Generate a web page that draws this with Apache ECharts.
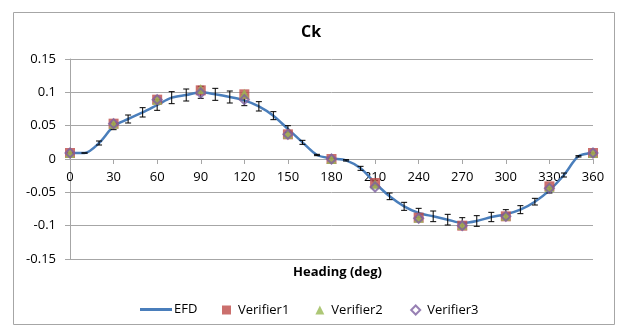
<!DOCTYPE html>
<html>
<head>
<meta charset="utf-8">
<script src="https://cdn.jsdelivr.net/npm/echarts@6/dist/echarts.min.js"></script>
<style>
html,body{margin:0;padding:0;background:#fff;}
#c{width:622px;height:329px;}
</style>
</head>
<body>
<div id="c"></div>
<script>
var efdHeading = [0,10,20,30,40,50,60,70,80,90,100,110,120,130,140,150,160,170,180,190,200,210,220,230,240,250,260,270,280,290,300,310,320,330,340,350,360];
var efdValues = [0.009,0.009,0.024,0.049,0.060,0.070,0.081,0.092,0.096,0.100,0.097,0.093,0.088,0.079,0.065,0.045,0.025,0.006,0.001,-0.002,-0.014,-0.036,-0.056,-0.071,-0.081,-0.086,-0.091,-0.096,-0.093,-0.087,-0.083,-0.076,-0.064,-0.047,-0.024,0.004,0.009];
var efdError = [0,0,0.003,0.005,0.006,0.007,0.008,0.009,0.009,0.009,0.009,0.009,0.008,0.007,0.006,0.005,0.003,0.001,0,0.001,0.003,0.004,0.005,0.006,0.007,0.008,0.008,0.008,0.008,0.007,0.007,0.006,0.005,0.004,0.003,0.001,0];
var verHeading = [0,30,60,90,120,150,180,210,240,270,300,330,360];
var verifier1 = [0.009,0.053,0.089,0.103,0.097,0.037,0,-0.036,-0.088,-0.100,-0.086,-0.041,0.009];
var verifier2 = [0.009,0.053,0.089,0.105,0.098,0.038,0,-0.038,-0.088,-0.099,-0.085,-0.042,0.009];
var verifier3 = [0.009,0.053,0.089,0.099,0.089,0.037,0,-0.042,-0.089,-0.100,-0.086,-0.044,0.009];
var seriesNames = ['EFD','Verifier1','Verifier2','Verifier3'];
var chartTitle = 'Ck';
var xAxisTitle = 'Heading (deg)';

var FONT = '"Open Sans", "Liberation Sans", sans-serif';
function pairs(xs, ys){ return xs.map(function(x,i){ return [x, ys[i]]; }); }
var errData = efdHeading.map(function(h,i){ return [h, efdValues[i]-efdError[i], efdValues[i]+efdError[i]]; });

var GRID_H = 200; // plot height in px; y range symmetric, so zero sits at mid-height
var chart = echarts.init(document.getElementById('c'), null, {renderer:'canvas'});
chart.setOption({
  animation:false,
  backgroundColor:'#fff',
  graphic:[{type:'rect', shape:{x:13.5,y:12.5,width:601,height:312}, style:{fill:'none', stroke:'#a6a6a6', lineWidth:1}, silent:true, z:-1}],
  title:[
    {text:chartTitle, left:'center', top:19, textStyle:{fontFamily:FONT, fontSize:16, fontWeight:'bold', color:'#000'}},
    {text:xAxisTitle, left:288, top:261, textStyle:{fontFamily:FONT, fontSize:13, fontWeight:'bold', color:'#000'}}
  ],
  legend:[
    {
      top:298, left:135, itemGap:10, itemWidth:32, itemHeight:10,
      textStyle:{fontFamily:FONT, fontSize:13, color:'#000', padding:[0,0,0,-3]},
      data:[{name:'EFD', icon:'path://M0,0 L32,0 L32,3 L0,3 Z'}]
    },
    {
      top:298, left:217, itemGap:26, itemWidth:9, itemHeight:9,
      textStyle:{fontFamily:FONT, fontSize:13, color:'#000', padding:[0,0,0,2]},
      data:[
        {name:'Verifier1', icon:'rect'},
        {name:'Verifier2', icon:'triangle'},
        {name:'Verifier3', icon:'diamond'}
      ]
    }
  ],
  grid:{left:70, right:29, top:59, height:GRID_H},
  xAxis:{
    type:'value', min:0, max:360, interval:30, position:'bottom', offset:-GRID_H/2,
    axisLine:{onZero:false, lineStyle:{color:'#a6a6a6', width:1}},
    axisTick:{show:true, length:5, lineStyle:{color:'#a6a6a6'}},
    axisLabel:{fontFamily:FONT, fontSize:13, color:'#000', margin:12},
    splitLine:{show:false}
  },
  yAxis:{
    type:'value', min:-0.15, max:0.15, interval:0.05,
    axisLine:{show:true, lineStyle:{color:'#a6a6a6'}},
    axisTick:{show:true, length:5, lineStyle:{color:'#a6a6a6'}},
    axisLabel:{fontFamily:FONT, fontSize:13, color:'#000', margin:14,
      formatter:function(v){ var r=Math.round(v*100)/100; return String(r); }},
    splitLine:{show:true, lineStyle:{color:'#a6a6a6', width:1}}
  },
  series:[
    {name:'EFD', type:'line', data:pairs(efdHeading, efdValues), smooth:0.3, showSymbol:false, symbol:'none',
      lineStyle:{color:'#4a7ebb', width:2.5}, itemStyle:{color:'#4a7ebb'}, z:3},
    {name:'EFDerr', type:'custom', data:errData, z:4,
      renderItem:function(params, api){
        var x = api.value(0);
        var lo = api.coord([x, api.value(1)]);
        var hi = api.coord([x, api.value(2)]);
        var w = 3;
        return {type:'group', children:[
          {type:'line', shape:{x1:lo[0],y1:lo[1],x2:hi[0],y2:hi[1]}, style:{stroke:'#000', lineWidth:1}},
          {type:'line', shape:{x1:lo[0]-w,y1:lo[1],x2:lo[0]+w,y2:lo[1]}, style:{stroke:'#000', lineWidth:1}},
          {type:'line', shape:{x1:hi[0]-w,y1:hi[1],x2:hi[0]+w,y2:hi[1]}, style:{stroke:'#000', lineWidth:1}}
        ]};
      }},
    {name:'Verifier1', type:'scatter', data:pairs(verHeading, verifier1), symbol:'rect', symbolSize:10,
      itemStyle:{color:'#be4b48'}, z:5},
    {name:'Verifier2', type:'scatter', data:pairs(verHeading, verifier2), symbol:'triangle', symbolSize:10,
      itemStyle:{color:'#98b954'}, z:6},
    {name:'Verifier3', type:'scatter', data:pairs(verHeading, verifier3), symbol:'diamond', symbolSize:9,
      itemStyle:{color:'none', borderColor:'#7d60a0', borderWidth:2}, z:7}
  ]
});
</script>
</body>
</html>
